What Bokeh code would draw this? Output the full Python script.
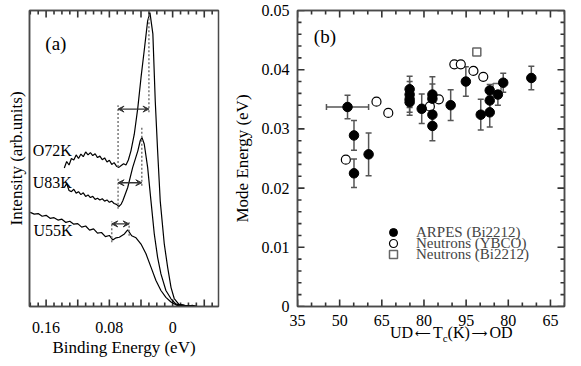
from bokeh.plotting import figure
from bokeh.models import (Range1d, FixedTicker, LinearAxis, Whisker, TeeHead, ColumnDataSource,
                          Arrow, VeeHead, Label, Legend, LegendItem, Div)
from bokeh.layouts import row, column
from bokeh.embed import file_html
from bokeh.resources import INLINE

# ---------------- Panel (a) data: ARPES spectra ----------------
be_o72 = [0.137, 0.134, 0.131, 0.128, 0.125, 0.122, 0.119, 0.116, 0.113, 0.110, 0.107, 0.104,
          0.101, 0.098, 0.095, 0.092, 0.089, 0.086, 0.083, 0.080, 0.077, 0.074, 0.071, 0.068,
          0.065, 0.062, 0.059, 0.056, 0.0527, 0.0485, 0.044, 0.040, 0.036, 0.0316, 0.0287,
          0.025, 0.022, 0.019, 0.0157, 0.0106, 0.0063, 0.002, -0.002, -0.008, -0.015, -0.022, -0.031]
i_o72 = [0.468, 0.490, 0.478, 0.500, 0.495, 0.512, 0.500, 0.515, 0.506, 0.522, 0.512, 0.520,
         0.510, 0.516, 0.503, 0.508, 0.496, 0.502, 0.488, 0.494, 0.480, 0.486, 0.474, 0.470,
         0.476, 0.482, 0.478, 0.495, 0.526, 0.582, 0.672, 0.773, 0.863, 0.965, 0.993,
         0.921, 0.695, 0.526, 0.357, 0.212, 0.132, 0.064, 0.027, 0.007, 0.004, 0.002, 0.0]

be_u83 = [0.137, 0.134, 0.131, 0.128, 0.125, 0.122, 0.119, 0.116, 0.113, 0.110, 0.107, 0.104,
          0.101, 0.098, 0.095, 0.092, 0.089, 0.086, 0.083, 0.080, 0.077, 0.074, 0.071, 0.068,
          0.065, 0.063, 0.0568, 0.0505, 0.044, 0.041, 0.0388, 0.0359, 0.0316, 0.0274, 0.0232,
          0.019, 0.0148, 0.0085, 0.0021, -0.004, -0.0126, -0.02, -0.031]
i_u83 = [0.402, 0.415, 0.392, 0.388, 0.396, 0.383, 0.388, 0.378, 0.384, 0.372, 0.377, 0.368,
         0.372, 0.362, 0.366, 0.360, 0.364, 0.356, 0.360, 0.352, 0.356, 0.348, 0.345, 0.338,
         0.346, 0.357, 0.402, 0.470, 0.526, 0.560, 0.571, 0.549, 0.470, 0.357, 0.245,
         0.166, 0.110, 0.054, 0.026, 0.009, 0.003, 0.001, 0.0]

be_u55 = [0.180, 0.175, 0.170, 0.165, 0.160, 0.155, 0.150, 0.145, 0.140, 0.135, 0.130, 0.125,
          0.120, 0.115, 0.110, 0.105, 0.100, 0.095, 0.090, 0.085, 0.080, 0.0758, 0.0715, 0.0674,
          0.061, 0.0568, 0.0518, 0.0463, 0.040, 0.0337, 0.0274, 0.0211, 0.0148, 0.0085, 0.0021,
          -0.0063, -0.012, -0.019, -0.025, -0.031]
i_u55 = [0.318, 0.312, 0.314, 0.305, 0.308, 0.298, 0.300, 0.292, 0.295, 0.284, 0.288, 0.278,
         0.280, 0.268, 0.272, 0.258, 0.262, 0.248, 0.250, 0.236, 0.240, 0.225, 0.232, 0.234,
         0.245, 0.259, 0.239, 0.232, 0.211, 0.178, 0.133, 0.088, 0.054, 0.031, 0.015,
         0.003, 0.006, 0.001, 0.004, 0.0]

spectra_names = ["O72K", "U83K", "U55K"]
label_be = [0.177, 0.177, 0.176]
label_int = [0.526, 0.418, 0.256]

# mode energy markers: dip position, peak position, arrow level, dotted-line extents
dip_be = [0.069, 0.069, 0.077]
peak_be = [0.030, 0.039, 0.055]
arrow_int = [0.667, 0.418, 0.279]
dip_lo = [0.471, 0.330, 0.217]
dip_hi = [0.680, 0.432, 0.287]
peak_lo = [0.656, 0.408, 0.239]
peak_hi = [1.0, 0.610, 0.285]

a_ticks = [0.16, 0.12, 0.08, 0.04, 0.0, -0.04]
a_tick_labels = ["0.16", "", "0.08", "", "0", ""]

# ---------------- Panel (b) data ----------------
# x position along UD -> optimal (95 K) -> OD axis
arpes_x = [52.8, 55.1, 55.1, 60.3, 74.9, 74.9, 74.9, 74.9, 79.2, 83.0, 83.0, 83.0, 83.0,
           89.5, 94.9, 100.2, 103.4, 103.4, 103.4, 106.3, 108.2, 118.2]
arpes_e = [0.0337, 0.0289, 0.0225, 0.0257, 0.0367, 0.0358, 0.0350, 0.0345, 0.0334, 0.0358,
           0.0351, 0.0324, 0.0305, 0.0340, 0.0380, 0.0324, 0.0365, 0.0348, 0.0328, 0.0358,
           0.0378, 0.0386]
arpes_err = [0.0020, 0.0025, 0.0024, 0.0036, 0.0022, 0.0022, 0.0022, 0.0022, 0.0025, 0.0030,
             0.0025, 0.0022, 0.0025, 0.0026, 0.0025, 0.0026, 0.0010, 0.0015, 0.0025, 0.0018,
             0.0016, 0.0020]
arpes_xerr_x = [52.8]
arpes_xerr_e = [0.0337]
arpes_xerr = [7.5]

ybco_x = [52.2, 63.1, 67.3, 82.1, 85.3, 90.8, 93.1, 97.6, 101.1]
ybco_e = [0.0248, 0.0346, 0.0327, 0.0338, 0.0350, 0.0409, 0.0409, 0.0398, 0.0388]

bi_x = [98.8, 106.0]
bi_e = [0.0430, 0.0370]

b_xticks = [35, 50, 65, 80, 95, 110, 125]
b_xtick_labels = ["35", "50", "65", "80", "95", "80", "65"]
b_yticks = [0.0, 0.01, 0.02, 0.03, 0.04, 0.05]
b_ytick_labels = ["0", "0.01", "0.02", "0.03", "0.04", "0.05"]

series_names = ["ARPES (Bi2212)", "Neutrons (YBCO)", "Neutrons (Bi2212)"]

# ---------------- styling ----------------
FONT = "Liberation Serif"
FRAME = "#4a4a4a"
TICKC = "#333333"
TICK_FS = "16px"
MAJ_LEN, MIN_LEN = 7, 4

A_W, A_H = 226, 366
A_BL, A_BR, A_BT, A_BB = 29, 8, 10, 60
B_W, B_H = 355, 340
B_BL, B_BR, B_BT, B_BB = 71, 17, 10, 34
A_XR = (0.181, -0.058)
A_YR = (0.0, 1.0)
B_XR = (35, 130)
B_YR = (0.0, 0.05)


def style_axis(ax, ticker, labels=None, show_labels=True):
    ax.ticker = ticker
    ax.axis_line_color = FRAME
    ax.axis_line_width = 1.5
    ax.major_tick_line_color = None
    ax.minor_tick_line_color = None
    ax.major_tick_in = 0
    ax.major_tick_out = 0
    ax.minor_tick_in = 0
    ax.minor_tick_out = 0
    ax.major_label_text_font = FONT
    ax.major_label_text_color = "black"
    ax.axis_label_text_font = FONT
    ax.axis_label_text_font_style = "normal"
    ax.axis_label_text_font_size = "17px"
    ax.axis_label_text_color = "black"
    if labels is not None:
        ax.major_label_overrides = labels
    if show_labels:
        ax.major_label_text_font_size = TICK_FS
    else:
        ax.major_label_text_font_size = "1px"
        ax.major_label_text_color = None
        ax.major_label_standoff = 0


def inward_ticks(p, positions, edge, inward_len, vertical):
    """Inward tick marks as short segments starting on a frame edge (inward_len in data units)."""
    n = len(positions)
    if vertical:
        src = ColumnDataSource(dict(x0=list(positions), x1=list(positions),
                                    y0=[edge] * n, y1=[edge + inward_len] * n))
    else:
        src = ColumnDataSource(dict(y0=list(positions), y1=list(positions),
                                    x0=[edge] * n, x1=[edge + inward_len] * n))
    p.segment(x0="x0", y0="y0", x1="x1", y1="y1", source=src,
              line_color=TICKC, line_width=1.6)


# ---------------- Panel (a) ----------------
pa = figure(width=A_W, height=A_H, output_backend="svg", toolbar_location=None,
            x_range=Range1d(*A_XR), y_range=Range1d(*A_YR),
            min_border_left=A_BL, min_border_right=A_BR, min_border_top=A_BT,
            min_border_bottom=A_BB)
pa.grid.visible = False
pa.outline_line_color = FRAME
pa.outline_line_width = 1.5

a_minor = [round(0.01 * k, 2) for k in range(-5, 19)]
a_minor_only = [t for t in a_minor if all(abs(t - m) > 1e-9 for m in a_ticks)]
a_over = {t: l for t, l in zip(a_ticks, a_tick_labels)}
style_axis(pa.xaxis[0], FixedTicker(ticks=a_ticks), a_over)
pa.xaxis[0].major_label_standoff = 15
pa.xaxis[0].axis_label = "Binding Energy (eV)"
pa.xaxis[0].axis_label_standoff = 2

top_a = LinearAxis()
style_axis(top_a, FixedTicker(ticks=a_ticks), None, show_labels=False)
pa.add_layout(top_a, "above")

style_axis(pa.yaxis[0], FixedTicker(ticks=[]), None, show_labels=False)
pa.yaxis[0].axis_label = "Intensity (arb.units)"
pa.yaxis[0].axis_label_standoff = 4

a_ypx = (A_YR[1] - A_YR[0]) / (A_H - A_BT - A_BB)   # data units per pixel
inward_ticks(pa, a_ticks, A_YR[0], MAJ_LEN * a_ypx, True)
inward_ticks(pa, a_minor_only, A_YR[0], MIN_LEN * a_ypx, True)
inward_ticks(pa, a_ticks, A_YR[1], -MAJ_LEN * a_ypx, True)
inward_ticks(pa, a_minor_only, A_YR[1], -MIN_LEN * a_ypx, True)

for be, it in ((be_o72, i_o72), (be_u83, i_u83), (be_u55, i_u55)):
    pa.line(be, it, line_color="black", line_width=1.2)

seg_src = ColumnDataSource(dict(x=dip_be + peak_be, y0=dip_lo + peak_lo, y1=dip_hi + peak_hi))
pa.segment(x0="x", y0="y0", x1="x", y1="y1", source=seg_src,
           line_color="#777777", line_width=1.5, line_dash="2 2")

arr_src = ColumnDataSource(dict(x0=dip_be, x1=peak_be, y=arrow_int))
pa.add_layout(Arrow(source=arr_src, x_start="x0", y_start="y", x_end="x1", y_end="y",
                    line_color="#333333", line_width=1.3,
                    start=VeeHead(size=6, fill_color="#333333", line_color="#333333"),
                    end=VeeHead(size=6, fill_color="#333333", line_color="#333333")))

for name, xb, yi in zip(spectra_names, label_be, label_int):
    pa.add_layout(Label(x=xb, y=yi, text=name, text_font=FONT, text_font_size="16px",
                        text_baseline="middle", text_align="left", text_color="black"))
pa.add_layout(Label(x=0.161, y=0.89, text="(a)", text_font=FONT, text_font_size="19px",
                    text_baseline="middle", text_align="left", text_color="black"))

# ---------------- Panel (b) ----------------
pb = figure(width=B_W, height=B_H, output_backend="svg", toolbar_location=None,
            x_range=Range1d(*B_XR), y_range=Range1d(*B_YR),
            min_border_left=B_BL, min_border_right=B_BR, min_border_top=B_BT,
            min_border_bottom=B_BB)
pb.grid.visible = False
pb.outline_line_color = FRAME
pb.outline_line_width = 1.5

b_xminor = [t for t in range(35, 131, 5) if t not in b_xticks]
b_yminor = [round(0.002 * k, 3) for k in range(0, 26)]
b_yminor = [t for t in b_yminor if all(abs(t - m) > 1e-9 for m in b_yticks)]
style_axis(pb.xaxis[0], FixedTicker(ticks=b_xticks),
           {t: l for t, l in zip(b_xticks, b_xtick_labels)})
pb.xaxis[0].major_label_standoff = 8
style_axis(pb.yaxis[0], FixedTicker(ticks=b_yticks),
           {t: l for t, l in zip(b_yticks, b_ytick_labels)})
pb.yaxis[0].major_label_standoff = 8
pb.yaxis[0].axis_label = "Mode Energy (eV)"
pb.yaxis[0].axis_label_standoff = 7

top_b = LinearAxis()
style_axis(top_b, FixedTicker(ticks=b_xticks), None, show_labels=False)
pb.add_layout(top_b, "above")
right_b = LinearAxis()
style_axis(right_b, FixedTicker(ticks=b_yticks), None, show_labels=False)
pb.add_layout(right_b, "right")

b_ypx = (B_YR[1] - B_YR[0]) / (B_H - B_BT - B_BB)
b_xpx = (B_XR[1] - B_XR[0]) / (B_W - B_BL - B_BR)
inward_ticks(pb, b_xticks, B_YR[0], MAJ_LEN * b_ypx, True)
inward_ticks(pb, b_xminor, B_YR[0], MIN_LEN * b_ypx, True)
inward_ticks(pb, b_xticks, B_YR[1], -MAJ_LEN * b_ypx, True)
inward_ticks(pb, b_xminor, B_YR[1], -MIN_LEN * b_ypx, True)
inward_ticks(pb, b_yticks, B_XR[0], MAJ_LEN * b_xpx, False)
inward_ticks(pb, b_yminor, B_XR[0], MIN_LEN * b_xpx, False)
inward_ticks(pb, b_yticks, B_XR[1], -MAJ_LEN * b_xpx, False)
inward_ticks(pb, b_yminor, B_XR[1], -MIN_LEN * b_xpx, False)

# error bars
ERR = "#555555"
err_src = ColumnDataSource(dict(x=arpes_x,
                                lo=[e - d for e, d in zip(arpes_e, arpes_err)],
                                hi=[e + d for e, d in zip(arpes_e, arpes_err)]))
pb.add_layout(Whisker(source=err_src, base="x", lower="lo", upper="hi", dimension="height",
                      line_color=ERR, line_width=1.5,
                      lower_head=TeeHead(size=6, line_color=ERR, line_width=1.5),
                      upper_head=TeeHead(size=6, line_color=ERR, line_width=1.5)))
xerr_src = ColumnDataSource(dict(y=arpes_xerr_e,
                                 lo=[x - d for x, d in zip(arpes_xerr_x, arpes_xerr)],
                                 hi=[x + d for x, d in zip(arpes_xerr_x, arpes_xerr)]))
pb.add_layout(Whisker(source=xerr_src, base="y", lower="lo", upper="hi", dimension="width",
                      line_color=ERR, line_width=1.5,
                      lower_head=TeeHead(size=6, line_color=ERR, line_width=1.5),
                      upper_head=TeeHead(size=6, line_color=ERR, line_width=1.5)))

r_bi = pb.scatter(bi_x, bi_e, marker="square", size=8, fill_color="white",
                  line_color="#666666", line_width=1.5)
r_ybco = pb.scatter(ybco_x, ybco_e, marker="circle", size=9, fill_color="white",
                    line_color="black", line_width=1.2)
r_arpes = pb.scatter(arpes_x, arpes_e, marker="circle", size=9.5, fill_color="black",
                     line_color="black")

# one legend per row so the rows can sit as close together as in the original
legend_rows = [(series_names[0], r_arpes, 64), (series_names[1], r_ybco, 53),
               (series_names[2], r_bi, 42)]
for name, rend, ly in legend_rows:
    pb.add_layout(Legend(items=[LegendItem(label=name, renderers=[rend])],
                         location=(86, ly), padding=0, margin=0, spacing=0,
                         label_text_font=FONT, label_text_font_size="15px",
                         label_height=20, glyph_height=20, glyph_width=20, label_standoff=13,
                         border_line_color=None, background_fill_alpha=0))

pb.add_layout(Label(x=40.8, y=0.0456, text="(b)", text_font=FONT, text_font_size="19px",
                    text_baseline="middle", text_align="left", text_color="black"))

# x-axis title of panel (b) with subscript c
ARW = ('<span style="font-family:\'DejaVu Sans\'; font-size:11px; margin:0 2px; '
       'position:relative; top:-1px;">{}</span>')
xtitle = Div(text=('<div style="position:relative; top:-15px; left:164px; '
                   'font-family:\'Liberation Serif\'; font-size:16px; line-height:16px; '
                   'color:black; white-space:nowrap;">UD' + ARW.format('\u27f5') + 'T'
                   '<span style="font-size:11px; position:relative; top:4px;">c</span>'
                   '(K)' + ARW.format('\u27f6') + 'OD</div>'),
             width=B_W, height=A_H - B_H, margin=(0, 0, 0, 0))

layout = row(pa, column(pb, xtitle))
open("out.html", "w").write(file_html(layout, INLINE))
